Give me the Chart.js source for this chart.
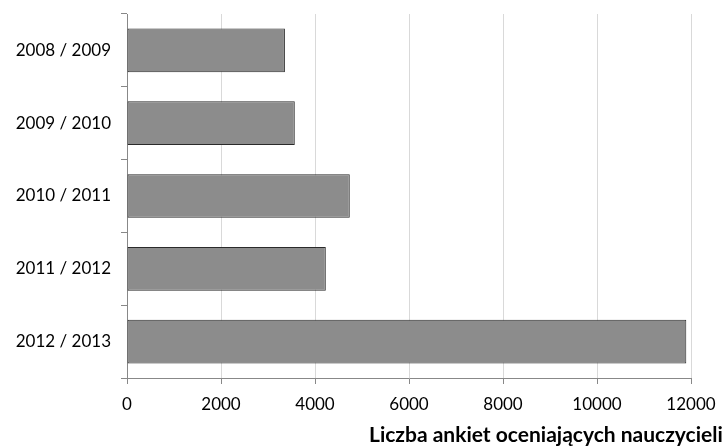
<!DOCTYPE html>
<html>
<head>
<meta charset="utf-8">
<script src="https://cdn.jsdelivr.net/npm/chart.js@4/dist/chart.umd.min.js"></script>
<style>
  html, body { margin: 0; padding: 0; background: #fff; overflow: hidden; }
  #wrap { position: relative; width: 728px; height: 446px; }
</style>
</head>
<body>
<div id="wrap"><canvas id="c"></canvas></div>
<script>
// Academic years and number of teacher-evaluation surveys
const years = ['2008 / 2009', '2009 / 2010', '2010 / 2011', '2011 / 2012', '2012 / 2013'];
const surveys = [3360, 3570, 4740, 4230, 11900];
const axisTitle = 'Liczba ankiet oceniających nauczycieli';
const xMax = 12000;
const xStep = 2000;

const FONT = 'Lato, "Noto Sans", sans-serif';

// Bold value-axis title, placed under the tick labels and running off the right edge
const axisTitlePlugin = {
  id: 'axisTitle',
  afterDraw(chart) {
    const { ctx, chartArea } = chart;
    ctx.save();
    ctx.font = 'bold 21px ' + FONT;
    ctx.fillStyle = '#000';
    ctx.textAlign = 'left';
    ctx.textBaseline = 'alphabetic';
    ctx.fillText(axisTitle, chartArea.right - 322, chartArea.bottom + 64);
    ctx.restore();
  }
};

new Chart(document.getElementById('c'), {
  type: 'bar',
  data: {
    labels: years,
    datasets: [{
      data: surveys,
      backgroundColor: '#8c8c8c',
      borderColor: '#2a2a2a',
      borderWidth: 1,
      borderSkipped: false,
      categoryPercentage: 1,
      barPercentage: 0.6
    }]
  },
  plugins: [axisTitlePlugin],
  options: {
    indexAxis: 'y',
    responsive: true,
    maintainAspectRatio: false,
    animation: false,
    layout: { padding: { top: 14, right: 37, left: 0, bottom: 0 } },
    plugins: { legend: { display: false }, tooltip: { enabled: false } },
    scales: {
      x: {
        min: 0,
        max: xMax,
        ticks: {
          stepSize: xStep,
          color: '#000',
          font: { family: FONT, size: 17 },
          padding: 10,
          callback: (v) => String(v)
        },
        grid: { color: '#d9d9d9', tickColor: '#888', tickLength: 6, lineWidth: 1 },
        border: { color: '#888' },
        afterFit(scale) { scale.height = 68; }
      },
      y: {
        ticks: { color: '#000', font: { family: FONT, size: 17 }, padding: 10 },
        grid: { drawOnChartArea: false, color: '#888', tickLength: 6, offset: true },
        border: { color: '#888' },
        afterFit(scale) {
          scale.width = 127;
          scale.paddingTop = 0;
          scale.paddingBottom = 0;
        }
      }
    }
  }
});
</script>
</body>
</html>
